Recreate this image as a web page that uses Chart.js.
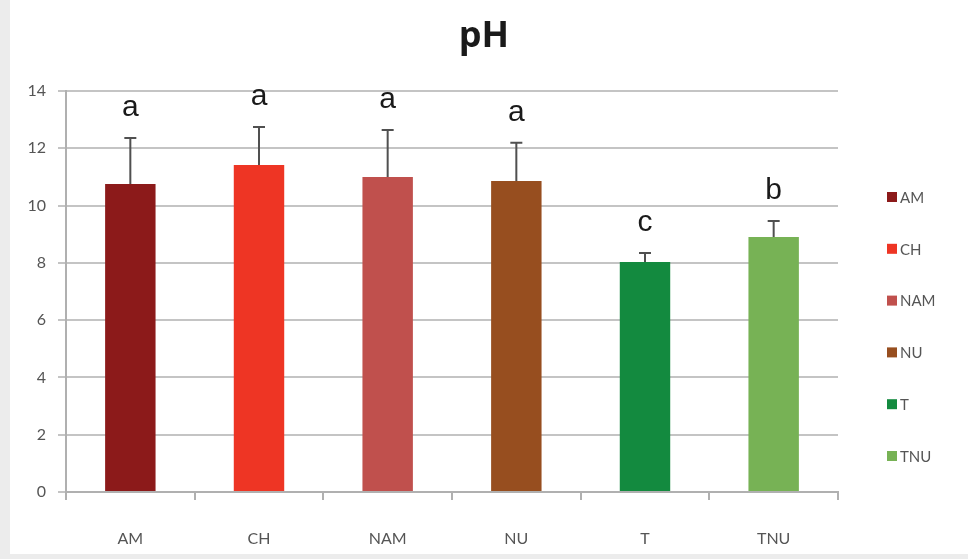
<!DOCTYPE html>
<html>
<head>
<meta charset="utf-8">
<script src="https://cdn.jsdelivr.net/npm/chart.js@4.4.0/dist/chart.umd.min.js"></script>
<style>
  html, body { margin: 0; padding: 0; background: #ececec; overflow: hidden; }
  #wrap { position: absolute; left: 10px; top: 0; width: 958px; height: 554px; background: #ffffff; }
  #c { position: absolute; left: 0; top: 0; }
</style>
</head>
<body>
<div id="wrap"></div>
<canvas id="c" width="968" height="559"></canvas>
<script>
const categories = ["AM", "CH", "NAM", "NU", "T", "TNU"];
const phValues = [10.75, 11.42, 11.0, 10.86, 8.03, 8.9];
const phErrors = [1.61, 1.32, 1.64, 1.33, 0.31, 0.56];
const letters = ["a", "a", "a", "a", "c", "b"];
const barColors = ["#8c1a1a", "#ee3524", "#c0504d", "#974e1f", "#138a3f", "#77b255"];
const yTicks = [0, 2, 4, 6, 8, 10, 12, 14];
const chartTitle = "pH";

const errorAndLetters = {
  id: 'errorAndLetters',
  afterDatasetsDraw(chart) {
    const ctx = chart.ctx;
    const meta = chart.getDatasetMeta(0);
    const y = chart.scales.y;
    ctx.save();
    meta.data.forEach((bar, i) => {
      const top = y.getPixelForValue(phValues[i] + phErrors[i]);
      const base = y.getPixelForValue(phValues[i]);
      ctx.strokeStyle = '#505050';
      ctx.lineWidth = 2;
      ctx.beginPath();
      ctx.moveTo(bar.x, base);
      ctx.lineTo(bar.x, top);
      ctx.moveTo(bar.x - 6, top);
      ctx.lineTo(bar.x + 6, top);
      ctx.stroke();
      ctx.fillStyle = '#1a1a1a';
      ctx.font = '30px "Liberation Sans", Arial, sans-serif';
      ctx.textAlign = 'center';
      ctx.textBaseline = 'alphabetic';
      ctx.fillText(letters[i], bar.x, top - 22);
    });
    // title
    ctx.fillStyle = '#1a1a1a';
    ctx.font = 'bold 36px "Open Sans", sans-serif';
    ctx.textAlign = 'center';
    ctx.textBaseline = 'alphabetic';
    ctx.fillText(chartTitle, chart.width / 2, 47);
    // legend
    const lx = 887, ly0 = 197, step = 51.8;
    ctx.font = '15px Lato, "Open Sans", sans-serif';
    ctx.textAlign = 'left';
    ctx.textBaseline = 'middle';
    categories.forEach((c, i) => {
      const yy = ly0 + i * step;
      ctx.fillStyle = barColors[i];
      ctx.fillRect(lx, yy - 5, 10, 10);
      ctx.fillStyle = '#555555';
      ctx.fillText(c, lx + 13, yy + 1);
    });
    ctx.restore();
  }
};

new Chart(document.getElementById('c'), {
  type: 'bar',
  data: {
    labels: categories,
    datasets: [{
      data: phValues,
      backgroundColor: barColors,
      borderWidth: 0,
      categoryPercentage: 0.8,
      barPercentage: 0.49
    }]
  },
  options: {
    responsive: false,
    animation: false,
    layout: { padding: { left: 0, right: 130, top: 91, bottom: 0 } },
    plugins: {
      legend: { display: false },
      tooltip: { enabled: false },
      title: { display: false }
    },
    scales: {
      x: {
        afterFit(s) { s.height = 67; },
        grid: { display: true, drawOnChartArea: false, drawTicks: true, tickLength: 8, color: '#b0b0b0', lineWidth: 2, offset: true },
        border: { display: true, color: '#b0b0b0', width: 2 },
        ticks: { color: '#555555', padding: 29, font: { family: 'Lato, "Open Sans", sans-serif', size: 16 } }
      },
      y: {
        min: 0, max: 14,
        afterFit(s) { s.width = 66; },
        afterBuildTicks(s) { s.ticks = yTicks.map(v => ({ value: v })); },
        grid: { color: '#c4c4c4', lineWidth: 2, tickLength: 8, drawTicks: true },
        border: { display: true, color: '#b0b0b0', width: 2 },
        ticks: { color: '#555555', padding: 12, font: { family: 'Lato, "Open Sans", sans-serif', size: 16 } }
      }
    }
  },
  plugins: [errorAndLetters]
});
</script>
</body>
</html>
